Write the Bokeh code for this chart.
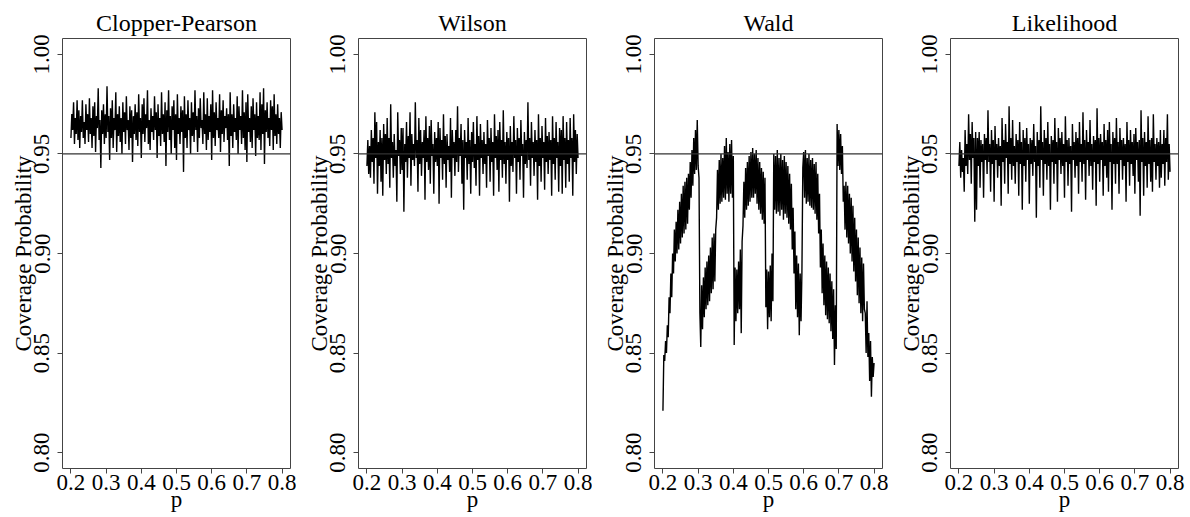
from bokeh.plotting import figure
from bokeh.layouts import row
from bokeh.models import Span, FixedTicker, NumeralTickFormatter
from bokeh.embed import file_html
from bokeh.resources import INLINE

titles = ["Clopper-Pearson", "Wilson", "Wald", "Likelihood"]

p_vals = [
    0.2000, 0.2025, 0.2050, 0.2075, 0.2100, 0.2125, 0.2150, 0.2175, 0.2200, 0.2225,
    0.2250, 0.2275, 0.2300, 0.2325, 0.2350, 0.2375, 0.2400, 0.2425, 0.2450, 0.2475,
    0.2500, 0.2525, 0.2550, 0.2575, 0.2600, 0.2625, 0.2650, 0.2675, 0.2700, 0.2725,
    0.2750, 0.2775, 0.2800, 0.2825, 0.2850, 0.2875, 0.2900, 0.2925, 0.2950, 0.2975,
    0.3000, 0.3025, 0.3050, 0.3075, 0.3100, 0.3125, 0.3150, 0.3175, 0.3200, 0.3225,
    0.3250, 0.3275, 0.3300, 0.3325, 0.3350, 0.3375, 0.3400, 0.3425, 0.3450, 0.3475,
    0.3500, 0.3525, 0.3550, 0.3575, 0.3600, 0.3625, 0.3650, 0.3675, 0.3700, 0.3725,
    0.3750, 0.3775, 0.3800, 0.3825, 0.3850, 0.3875, 0.3900, 0.3925, 0.3950, 0.3975,
    0.4000, 0.4025, 0.4050, 0.4075, 0.4100, 0.4125, 0.4150, 0.4175, 0.4200, 0.4225,
    0.4250, 0.4275, 0.4300, 0.4325, 0.4350, 0.4375, 0.4400, 0.4425, 0.4450, 0.4475,
    0.4500, 0.4525, 0.4550, 0.4575, 0.4600, 0.4625, 0.4650, 0.4675, 0.4700, 0.4725,
    0.4750, 0.4775, 0.4800, 0.4825, 0.4850, 0.4875, 0.4900, 0.4925, 0.4950, 0.4975,
    0.5000, 0.5025, 0.5050, 0.5075, 0.5100, 0.5125, 0.5150, 0.5175, 0.5200, 0.5225,
    0.5250, 0.5275, 0.5300, 0.5325, 0.5350, 0.5375, 0.5400, 0.5425, 0.5450, 0.5475,
    0.5500, 0.5525, 0.5550, 0.5575, 0.5600, 0.5625, 0.5650, 0.5675, 0.5700, 0.5725,
    0.5750, 0.5775, 0.5800, 0.5825, 0.5850, 0.5875, 0.5900, 0.5925, 0.5950, 0.5975,
    0.6000, 0.6025, 0.6050, 0.6075, 0.6100, 0.6125, 0.6150, 0.6175, 0.6200, 0.6225,
    0.6250, 0.6275, 0.6300, 0.6325, 0.6350, 0.6375, 0.6400, 0.6425, 0.6450, 0.6475,
    0.6500, 0.6525, 0.6550, 0.6575, 0.6600, 0.6625, 0.6650, 0.6675, 0.6700, 0.6725,
    0.6750, 0.6775, 0.6800, 0.6825, 0.6850, 0.6875, 0.6900, 0.6925, 0.6950, 0.6975,
    0.7000, 0.7025, 0.7050, 0.7075, 0.7100, 0.7125, 0.7150, 0.7175, 0.7200, 0.7225,
    0.7250, 0.7275, 0.7300, 0.7325, 0.7350, 0.7375, 0.7400, 0.7425, 0.7450, 0.7475,
    0.7500, 0.7525, 0.7550, 0.7575, 0.7600, 0.7625, 0.7650, 0.7675, 0.7700, 0.7725,
    0.7750, 0.7775, 0.7800, 0.7825, 0.7850, 0.7875, 0.7900, 0.7925, 0.7950, 0.7975,
    0.8000]

clopper_pearson = [
    0.958, 0.970, 0.962, 0.976, 0.955, 0.968, 0.960, 0.977, 0.957, 0.972,
    0.953, 0.969, 0.961, 0.977, 0.958, 0.966, 0.955, 0.975, 0.962, 0.970,
    0.956, 0.978, 0.960, 0.968, 0.953, 0.974, 0.959, 0.976, 0.951, 0.969,
    0.963, 0.983, 0.957, 0.967, 0.943, 0.972, 0.960, 0.975, 0.955, 0.970,
    0.958, 0.984, 0.961, 0.969, 0.947, 0.973, 0.958, 0.977, 0.953, 0.968,
    0.962, 0.981, 0.951, 0.970, 0.959, 0.974, 0.956, 0.968, 0.950, 0.976,
    0.961, 0.971, 0.955, 0.979, 0.962, 0.967, 0.952, 0.974, 0.958, 0.972,
    0.946, 0.969, 0.960, 0.975, 0.957, 0.971, 0.954, 0.980, 0.961, 0.968,
    0.948, 0.975, 0.960, 0.978, 0.956, 0.970, 0.963, 0.982, 0.955, 0.967,
    0.952, 0.973, 0.961, 0.969, 0.957, 0.979, 0.962, 0.971, 0.948, 0.975,
    0.959, 0.968, 0.954, 0.981, 0.960, 0.970, 0.956, 0.976, 0.944, 0.972,
    0.961, 0.982, 0.957, 0.969, 0.950, 0.974, 0.962, 0.977, 0.953, 0.970,
    0.947, 0.980, 0.960, 0.968, 0.955, 0.974, 0.961, 0.972, 0.941, 0.979,
    0.958, 0.970, 0.953, 0.977, 0.962, 0.968, 0.950, 0.976, 0.959, 0.971,
    0.956, 0.982, 0.962, 0.969, 0.951, 0.973, 0.958, 0.978, 0.963, 0.967,
    0.955, 0.981, 0.960, 0.970, 0.952, 0.978, 0.957, 0.969, 0.961, 0.975,
    0.947, 0.982, 0.958, 0.971, 0.954, 0.976, 0.962, 0.968, 0.958, 0.980,
    0.951, 0.972, 0.960, 0.977, 0.956, 0.969, 0.963, 0.973, 0.957, 0.970,
    0.944, 0.981, 0.959, 0.970, 0.953, 0.975, 0.961, 0.968, 0.957, 0.979,
    0.950, 0.974, 0.962, 0.969, 0.955, 0.982, 0.958, 0.971, 0.952, 0.976,
    0.946, 0.980, 0.961, 0.968, 0.956, 0.974, 0.953, 0.978, 0.962, 0.970,
    0.949, 0.976, 0.958, 0.969, 0.957, 0.981, 0.952, 0.975, 0.960, 0.983,
    0.945, 0.972, 0.961, 0.976, 0.958, 0.968, 0.954, 0.977, 0.962, 0.974,
    0.952, 0.980, 0.959, 0.970, 0.955, 0.975, 0.960, 0.968, 0.953, 0.971,
    0.962]

wilson = [
    0.944, 0.957, 0.940, 0.954, 0.938, 0.962, 0.946, 0.958, 0.935, 0.971,
    0.948, 0.966, 0.930, 0.956, 0.944, 0.962, 0.936, 0.958, 0.929, 0.965,
    0.947, 0.960, 0.940, 0.968, 0.945, 0.958, 0.933, 0.975, 0.948, 0.956,
    0.938, 0.960, 0.944, 0.952, 0.926, 0.971, 0.949, 0.957, 0.940, 0.963,
    0.942, 0.963, 0.921, 0.955, 0.946, 0.966, 0.938, 0.959, 0.948, 0.971,
    0.934, 0.960, 0.947, 0.955, 0.944, 0.976, 0.948, 0.957, 0.931, 0.968,
    0.945, 0.962, 0.939, 0.956, 0.948, 0.962, 0.927, 0.969, 0.946, 0.958,
    0.942, 0.964, 0.935, 0.967, 0.949, 0.955, 0.930, 0.961, 0.946, 0.958,
    0.944, 0.966, 0.925, 0.963, 0.948, 0.957, 0.937, 0.970, 0.945, 0.959,
    0.933, 0.960, 0.947, 0.954, 0.941, 0.968, 0.928, 0.962, 0.948, 0.956,
    0.939, 0.962, 0.946, 0.974, 0.941, 0.958, 0.949, 0.965, 0.935, 0.957,
    0.922, 0.962, 0.948, 0.956, 0.937, 0.968, 0.945, 0.957, 0.930, 0.961,
    0.946, 0.966, 0.943, 0.955, 0.934, 0.969, 0.947, 0.959, 0.929, 0.965,
    0.948, 0.957, 0.940, 0.961, 0.945, 0.955, 0.933, 0.967, 0.949, 0.958,
    0.936, 0.963, 0.946, 0.956, 0.929, 0.970, 0.948, 0.959, 0.942, 0.962,
    0.931, 0.966, 0.947, 0.957, 0.938, 0.972, 0.945, 0.956, 0.935, 0.961,
    0.947, 0.958, 0.926, 0.964, 0.944, 0.956, 0.941, 0.969, 0.948, 0.957,
    0.930, 0.963, 0.946, 0.958, 0.937, 0.967, 0.949, 0.955, 0.928, 0.961,
    0.945, 0.957, 0.943, 0.976, 0.947, 0.958, 0.934, 0.966, 0.948, 0.956,
    0.939, 0.962, 0.946, 0.957, 0.927, 0.970, 0.944, 0.958, 0.936, 0.964,
    0.948, 0.956, 0.932, 0.968, 0.946, 0.959, 0.940, 0.961, 0.947, 0.957,
    0.929, 0.969, 0.945, 0.958, 0.937, 0.966, 0.948, 0.956, 0.931, 0.963,
    0.944, 0.962, 0.930, 0.969, 0.947, 0.958, 0.933, 0.966, 0.945, 0.957,
    0.936, 0.968, 0.948, 0.958, 0.929, 0.970, 0.946, 0.962, 0.940, 0.960,
    0.948]

wald = [
    0.821, 0.849, 0.846, 0.856, 0.850, 0.864, 0.858, 0.878, 0.870, 0.890,
    0.878, 0.900, 0.890, 0.912, 0.896, 0.916, 0.900, 0.922, 0.902, 0.926,
    0.905, 0.930, 0.908, 0.934, 0.910, 0.936, 0.912, 0.938, 0.915, 0.940,
    0.922, 0.946, 0.928, 0.952, 0.934, 0.958, 0.940, 0.962, 0.942, 0.967,
    0.944, 0.938,
    0.870, 0.853, 0.884, 0.862, 0.888, 0.868, 0.893, 0.872, 0.896, 0.874,
    0.899, 0.876, 0.903, 0.880, 0.908, 0.882, 0.910, 0.886,
    0.912, 0.918, 0.942, 0.922, 0.947, 0.925, 0.950, 0.926, 0.948, 0.928,
    0.954, 0.927, 0.958, 0.930, 0.951, 0.926, 0.955, 0.930, 0.957, 0.928,
    0.949,
    0.854, 0.893, 0.866, 0.892, 0.870, 0.896, 0.872, 0.902, 0.860, 0.906,
    0.914, 0.936, 0.918, 0.943, 0.922, 0.946, 0.924, 0.949, 0.926, 0.951,
    0.928, 0.953, 0.928, 0.950, 0.930, 0.952, 0.925, 0.948, 0.922, 0.946,
    0.920, 0.943, 0.917, 0.941, 0.915, 0.938,
    0.873, 0.892, 0.862, 0.891, 0.868, 0.894, 0.866, 0.900, 0.876,
    0.950, 0.922, 0.949, 0.920, 0.952, 0.921, 0.948, 0.919, 0.950, 0.922,
    0.947, 0.917, 0.949, 0.920, 0.946, 0.918, 0.944, 0.915, 0.940, 0.912,
    0.935, 0.902, 0.923, 0.890, 0.911, 0.872, 0.899, 0.868, 0.895, 0.859,
    0.890, 0.866, 0.891,
    0.943, 0.951, 0.928, 0.952, 0.925, 0.948, 0.926, 0.950, 0.924, 0.947,
    0.923, 0.948, 0.922, 0.945, 0.920, 0.946, 0.917, 0.940, 0.910, 0.930,
    0.893, 0.912, 0.880, 0.905, 0.874, 0.899, 0.869, 0.896, 0.867, 0.893,
    0.865, 0.890, 0.861, 0.886, 0.857, 0.882, 0.844, 0.874, 0.852,
    0.965, 0.944, 0.962, 0.942, 0.960, 0.940, 0.954, 0.926, 0.934, 0.912,
    0.936, 0.908, 0.934, 0.905, 0.930, 0.900, 0.928, 0.896, 0.924, 0.891,
    0.918, 0.886, 0.912, 0.879, 0.908, 0.875, 0.903, 0.870, 0.898, 0.866,
    0.895, 0.872, 0.870, 0.850, 0.876, 0.848, 0.860, 0.836, 0.856, 0.828,
    0.848, 0.838, 0.845]

likelihood = [
    0.944, 0.956, 0.938, 0.952, 0.941, 0.948, 0.931, 0.962, 0.944, 0.955,
    0.940, 0.970, 0.947, 0.960, 0.935, 0.966, 0.948, 0.958, 0.916, 0.961,
    0.922, 0.958, 0.944, 0.961, 0.933, 0.957, 0.946, 0.955, 0.928, 0.960,
    0.947, 0.958, 0.940, 0.972, 0.946, 0.955, 0.931, 0.962, 0.945, 0.957,
    0.926, 0.964, 0.947, 0.955, 0.938, 0.958, 0.944, 0.954, 0.924, 0.968,
    0.946, 0.957, 0.935, 0.965, 0.948, 0.956, 0.930, 0.974, 0.945, 0.958,
    0.937, 0.967, 0.944, 0.954, 0.935, 0.960, 0.946, 0.957, 0.929, 0.966,
    0.945, 0.956, 0.922, 0.962, 0.944, 0.958, 0.936, 0.963, 0.947, 0.955,
    0.925, 0.958, 0.945, 0.957, 0.939, 0.965, 0.946, 0.954, 0.918, 0.961,
    0.944, 0.957, 0.933, 0.974, 0.947, 0.956, 0.929, 0.962, 0.945, 0.958,
    0.937, 0.966, 0.944, 0.955, 0.922, 0.959, 0.946, 0.957, 0.935, 0.968,
    0.945, 0.956, 0.926, 0.963, 0.947, 0.958, 0.940, 0.961, 0.944, 0.955,
    0.928, 0.969, 0.946, 0.957, 0.934, 0.958, 0.945, 0.954, 0.921, 0.965,
    0.947, 0.956, 0.938, 0.961, 0.944, 0.958, 0.930, 0.966, 0.946, 0.955,
    0.936, 0.971, 0.945, 0.957, 0.927, 0.962, 0.947, 0.956, 0.939, 0.967,
    0.944, 0.955, 0.932, 0.959, 0.946, 0.957, 0.924, 0.973, 0.945, 0.958,
    0.936, 0.960, 0.947, 0.956, 0.929, 0.965, 0.944, 0.957, 0.938, 0.962,
    0.931, 0.966, 0.946, 0.955, 0.922, 0.961, 0.945, 0.958, 0.935, 0.968,
    0.945, 0.956, 0.930, 0.963, 0.947, 0.957, 0.937, 0.958, 0.944, 0.955,
    0.926, 0.966, 0.946, 0.957, 0.934, 0.962, 0.945, 0.956, 0.939, 0.960,
    0.930, 0.963, 0.947, 0.956, 0.936, 0.957, 0.919, 0.972, 0.946, 0.958,
    0.929, 0.961, 0.944, 0.956, 0.933, 0.969, 0.945, 0.957, 0.936, 0.958,
    0.931, 0.970, 0.946, 0.955, 0.937, 0.958, 0.944, 0.956, 0.933, 0.962,
    0.938, 0.955, 0.945, 0.962, 0.934, 0.958, 0.946, 0.970, 0.937, 0.955,
    0.941]

series = [clopper_pearson, wilson, wald, likelihood]
x_ticks = [0.2, 0.3, 0.4, 0.5, 0.6, 0.7, 0.8]
y_ticks = [0.80, 0.85, 0.90, 0.95, 1.00]
nominal = 0.95

FONT = "Liberation Serif"
GRAY = "#444444"

figs = []
for i, (t, ys) in enumerate(zip(titles, series)):
    right = 8 if i == 3 else 6
    w = 62 + 228 + right
    f = figure(width=w, height=516, x_range=(0.176, 0.824), y_range=(0.792, 1.008),
               output_backend="svg", toolbar_location=None,
               min_border_left=62, min_border_right=right,
               min_border_top=38, min_border_bottom=48)
    f.title.text = t
    f.title.align = "center"
    f.title.text_font = FONT
    f.title.text_font_size = "24px"
    f.title.text_font_style = "normal"
    f.title.text_color = "black"
    f.title.standoff = 6
    f.grid.visible = False
    f.outline_line_color = GRAY
    f.outline_line_width = 1
    f.background_fill_color = "white"
    f.border_fill_color = "white"

    f.line(p_vals, ys, line_color="black", line_width=1.4)
    f.add_layout(Span(location=nominal, dimension="width", line_color="#333333", line_width=1.2))

    for ax in (f.xaxis[0], f.yaxis[0]):
        ax.axis_line_color = None
        ax.major_tick_line_color = GRAY
        ax.major_tick_out = 5
        ax.major_tick_in = 0
        ax.minor_tick_line_color = None
        ax.major_label_text_font = FONT
        ax.major_label_text_font_size = "23px"
        ax.major_label_text_color = "black"
        ax.axis_label_text_font = FONT
        ax.axis_label_text_font_size = "23px"
        ax.axis_label_text_font_style = "normal"
        ax.axis_label_text_color = "black"

    f.xaxis.ticker = FixedTicker(ticks=x_ticks)
    f.xaxis.formatter = NumeralTickFormatter(format="0.0")
    f.xaxis.axis_label = "p"
    f.xaxis.major_label_standoff = 1
    f.xaxis.axis_label_standoff = -6

    f.yaxis.ticker = FixedTicker(ticks=y_ticks)
    f.yaxis.formatter = NumeralTickFormatter(format="0.00")
    f.yaxis.axis_label = "Coverage Probability"
    f.yaxis.major_label_orientation = "parallel"
    f.yaxis.major_label_standoff = 8
    f.yaxis.axis_label_standoff = -4
    figs.append(f)

layout = row(*figs, spacing=0)
open("out.html", "w").write(file_html(layout, INLINE))
